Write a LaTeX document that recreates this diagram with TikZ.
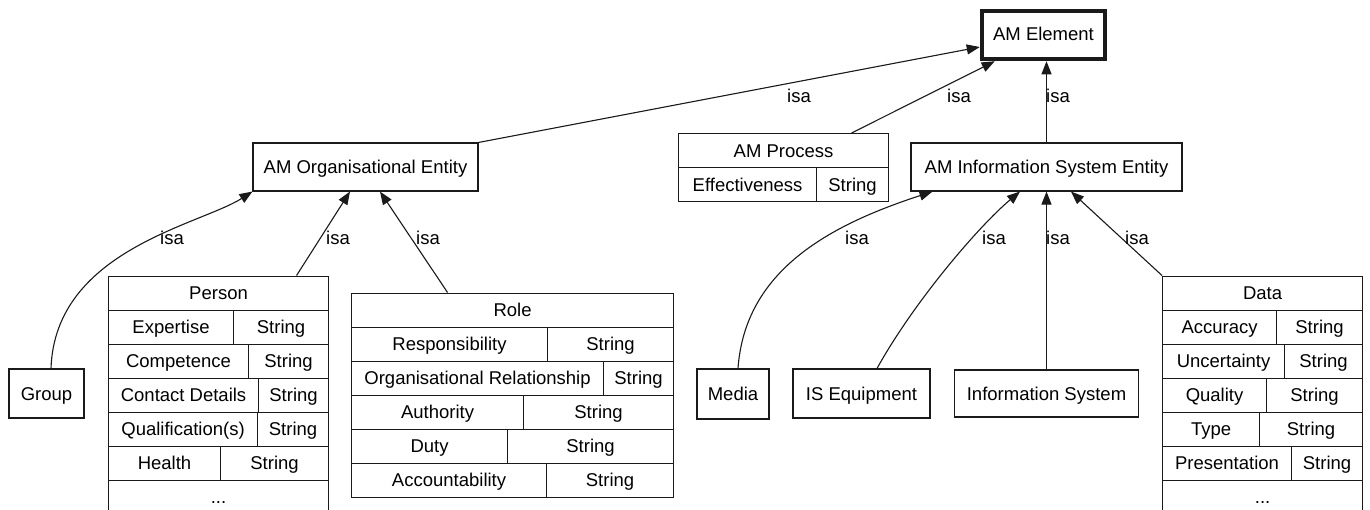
\documentclass[tikz,border=0pt]{standalone}
\usepackage{fontspec}
\setmainfont{Liberation Sans}
\usetikzlibrary{arrows.meta}
\definecolor{lc}{HTML}{1A1A1A}
\newcommand\dfont{\fontsize{18.5}{22}\selectfont}
\tikzset{
  box/.style={draw=lc, line width=1.1pt, fill=white, inner sep=0pt,
    font=\dfont, text height=17pt, text depth=4pt},
  cell/.style={box, anchor=north west},
  isa/.style={draw=lc, line width=1.1pt, -{Triangle[length=13pt,width=10pt]}},
  lab/.style={font=\dfont, anchor=base, inner sep=0pt},
}
\newcommand\cellbox[6]{\node[cell, minimum width={(#4-#2)*1pt}, minimum height={(#5-#3)*1pt}] (#1) at (#2,#3) {#6};}
\begin{document}
\begin{tikzpicture}[x=1pt,y=-1pt]
\useasboundingbox (0,0) rectangle (1370,509);
\clip (0,0) rectangle (1370,509);
\fill[white] (0,0) rectangle (1370,509);

% top
\node[box, line width=4.5pt, minimum width=123pt, minimum height=48pt, text depth=6pt] (amel) at (1043.5,35) {AM Element};
\node[box, minimum width=225pt, minimum height=48pt] (amorg) at (365.5,167) {AM Organisational Entity};
\node[box, minimum width=271pt, minimum height=48pt] (amis) at (1046.5,167) {AM Information System Entity};
\cellbox{proc}{678}{133}{888}{167}{AM Process}
\cellbox{prk}{678}{167}{816}{201}{Effectiveness}
\cellbox{prv}{816}{167}{888}{201}{String}

% simple leaves
\node[box, minimum width=75pt, minimum height=49pt] (group) at (46.5,393.5) {Group};
\node[box, minimum width=72pt, minimum height=50pt] (media) at (733,394) {Media};
\node[box, minimum width=137pt, minimum height=49pt] (isequip) at (861.5,393.5) {IS Equipment};
\node[box, minimum width=184pt, minimum height=47pt] (infosys) at (1046.5,393.5) {Information System};

% Person
\cellbox{person}{108}{275.5}{328}{309.5}{Person}
\cellbox{pk1}{108}{309.5}{233}{343.5}{Expertise}
\cellbox{pv1}{233}{309.5}{328}{343.5}{String}
\cellbox{pk2}{108}{343.5}{248}{377.5}{Competence}
\cellbox{pv2}{248}{343.5}{328}{377.5}{String}
\cellbox{pk3}{108}{377.5}{258}{411.5}{Contact Details}
\cellbox{pv3}{258}{377.5}{328}{411.5}{String}
\cellbox{pk4}{108}{411.5}{257}{445.5}{Qualification(s)}
\cellbox{pv4}{257}{411.5}{328}{445.5}{String}
\cellbox{pk5}{108}{445.5}{220}{479.5}{Health}
\cellbox{pv5}{220}{445.5}{328}{479.5}{String}
\cellbox{pmore}{108}{479.5}{328}{513.5}{...}

% Role
\cellbox{role}{351}{292.5}{673}{326.5}{Role}
\cellbox{rk1}{351}{326.5}{547}{360.5}{Responsibility}
\cellbox{rv1}{547}{326.5}{673}{360.5}{String}
\cellbox{rk2}{351}{360.5}{603}{394.5}{Organisational Relationship}
\cellbox{rv2}{603}{360.5}{673}{394.5}{String}
\cellbox{rk3}{351}{394.5}{523}{428.5}{Authority}
\cellbox{rv3}{523}{394.5}{673}{428.5}{String}
\cellbox{rk4}{351}{428.5}{507}{462.5}{Duty}
\cellbox{rv4}{507}{428.5}{673}{462.5}{String}
\cellbox{rk5}{351}{462.5}{546}{496.5}{Accountability}
\cellbox{rv5}{546}{462.5}{673}{496.5}{String}

% Data
\cellbox{data}{1162}{275.5}{1362}{309.5}{Data}
\cellbox{dk1}{1162}{309.5}{1276}{343.5}{Accuracy}
\cellbox{dv1}{1276}{309.5}{1362}{343.5}{String}
\cellbox{dk2}{1162}{343.5}{1284}{377.5}{Uncertainty}
\cellbox{dv2}{1284}{343.5}{1362}{377.5}{String}
\cellbox{dk3}{1162}{377.5}{1266}{411.5}{Quality}
\cellbox{dv3}{1266}{377.5}{1362}{411.5}{String}
\cellbox{dk4}{1162}{411.5}{1259}{445.5}{Type}
\cellbox{dv4}{1259}{411.5}{1362}{445.5}{String}
\cellbox{dk5}{1162}{445.5}{1291}{479.5}{Presentation}
\cellbox{dv5}{1291}{445.5}{1362}{479.5}{String}
\cellbox{dmore}{1162}{479.5}{1362}{513.5}{...}

% connectors
\draw[isa] (amorg.north east) -- ([yshift=-12pt]amel.west);
\draw[isa] ([xshift=68pt]proc.north) -- ([xshift=15pt]amel.south west);
\draw[isa] (amis.north) -- (amis.north |- amel.south);
\draw[isa] ([xshift=4.5pt]group.north) .. controls (55,250) and (200,225) .. (amorg.south west);
\draw[isa] ([xshift=78pt]person.north) -- ([xshift=-15.5pt]amorg.south);
\draw[isa] ([xshift=-65pt]role.north) -- ([xshift=14.5pt]amorg.south);
\draw[isa] ([xshift=5pt]media.north) .. controls (745,270) and (830,225) .. ([xshift=22pt]amis.south west);
\draw[isa] ([xshift=15.5pt]isequip.north) .. controls (915,300) and (980,225) .. ([xshift=-26.5pt]amis.south);
\draw[isa] (infosys.north) -- (infosys.north |- amis.south);
\draw[isa] (data.north west) -- ([xshift=24.5pt]amis.south);

% labels
\node[lab] (l1) at (799,102) {isa};
\node[lab] (l2) at (959,102) {isa};
\node[lab] (l3) at (1058,102) {isa};
\node[lab] (l4) at (172,244) {isa};
\node[lab] (l5) at (338,244) {isa};
\node[lab] (l6) at (428,244) {isa};
\node[lab] (l7) at (857,244) {isa};
\node[lab] (l8) at (994,244) {isa};
\node[lab] (l9) at (1058,244) {isa};
\node[lab] (l10) at (1137,244) {isa};
\end{tikzpicture}
\end{document}
